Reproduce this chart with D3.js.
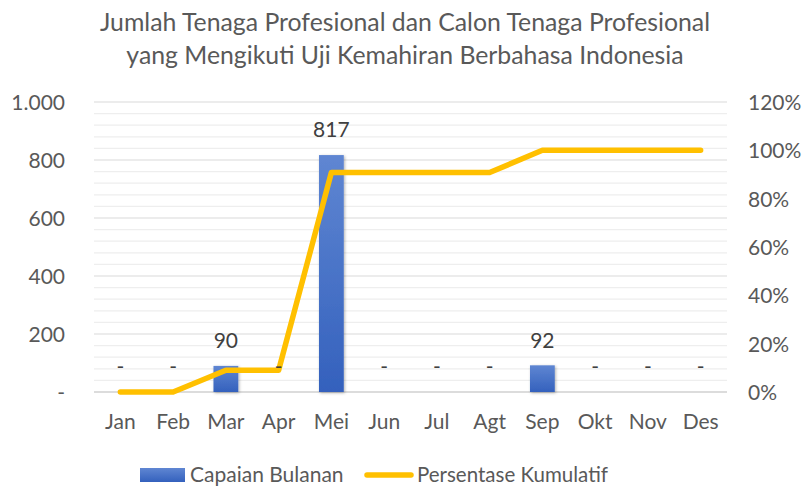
<!DOCTYPE html>
<html><head><meta charset="utf-8">
<script src="https://cdn.jsdelivr.net/npm/d3@7"></script>
<style>body{margin:0;background:#fff}svg{display:block}</style>
</head><body>
<svg id="c" width="809" height="486"></svg>
<script>
const months = ["Jan","Feb","Mar","Apr","Mei","Jun","Jul","Agt","Sep","Okt","Nov","Des"];
const capaian = [0,0,90,0,817,0,0,0,92,0,0,0];
const kumulatif = [0,0,0.09,0.09,0.908,0.908,0.908,0.908,1.0,1.0,1.0,1.0];
const leftTicks = [0,200,400,600,800,1000];
const rightTicks = [0,0.2,0.4,0.6,0.8,1.0,1.2];
const titleLines = ["Jumlah Tenaga Profesional dan Calon Tenaga Profesional","yang Mengikuti Uji Kemahiran Berbahasa Indonesia"];
const legendLabels = ["Capaian Bulanan","Persentase Kumulatif"];

const svg = d3.select("#c");
const font = "Lato, sans-serif";
const grey = "#595959";
const L = 94, R = 727, T = 102, B = 392;

const x = d3.scaleBand().domain(months).range([L, R]).paddingInner(0.53).paddingOuter(0.265);
const y = d3.scaleLinear().domain([0,1000]).range([B,T]);
const y2 = d3.scaleLinear().domain([0,1.2]).range([B,T]);

const defs = svg.append("defs");
const g = defs.append("linearGradient").attr("id","bg").attr("x1",0).attr("y1",0).attr("x2",0).attr("y2",1);
g.append("stop").attr("offset","0%").attr("stop-color","#5f86d2");
g.append("stop").attr("offset","100%").attr("stop-color","#3461bd");
const f = defs.append("filter").attr("id","sh").attr("x","-30%").attr("y","-10%").attr("width","160%").attr("height","130%");
f.append("feDropShadow").attr("dx",1).attr("dy",1).attr("stdDeviation",1.5).attr("flood-color","#000").attr("flood-opacity",0.3);

// minor gridlines
const minor = d3.range(0,1001,40).filter(v => v % 200 !== 0);
svg.append("g").selectAll("line").data(minor).join("line")
  .attr("x1",L).attr("x2",R).attr("y1",d=>y(d)).attr("y2",d=>y(d))
  .attr("stroke","#eeeeee").attr("stroke-width",1.2);
svg.append("g").selectAll("line").data(leftTicks).join("line")
  .attr("x1",L).attr("x2",R).attr("y1",d=>y(d)).attr("y2",d=>y(d))
  .attr("stroke",d=>d===0?"#d0d0d0":"#d9d9d9").attr("stroke-width",d=>d===0?1.5:1.2);

const axisText = sel => sel.attr("font-family",font).attr("font-size",21).attr("fill",grey).attr("dy","0.35em");

// left axis
const la = d3.axisLeft(y).tickValues(leftTicks).tickSize(0).tickPadding(0)
  .tickFormat(d => d===0 ? "-" : d3.format(",")(d).replace(/,/g,"."));
const lg = svg.append("g").attr("transform",`translate(65,0)`).call(la);
lg.select(".domain").remove();
lg.selectAll("text").call(axisText);

// right axis
const ra = d3.axisRight(y2).tickValues(rightTicks).tickSize(0).tickPadding(0)
  .tickFormat(d => Math.round(d*100)+"%");
const rg = svg.append("g").attr("transform",`translate(748,0)`).call(ra);
rg.select(".domain").remove();
rg.selectAll("text").call(axisText);

// x axis
const xa = d3.axisBottom(x).tickSize(0).tickPadding(0);
const xg = svg.append("g").attr("transform",`translate(0,422)`).call(xa);
xg.select(".domain").remove();
xg.selectAll("text").call(axisText);

// bars
svg.append("g").selectAll("rect").data(months.map((m,i)=>({m,v:capaian[i]})).filter(d=>d.v>0)).join("rect")
  .attr("x",d=>x(d.m)).attr("width",x.bandwidth())
  .attr("y",d=>y(d.v)).attr("height",d=>B-y(d.v))
  .attr("fill","url(#bg)").attr("filter","url(#sh)");

// line
svg.append("path").datum(kumulatif)
  .attr("d", d3.line().x((d,i)=>x(months[i])+x.bandwidth()/2).y(d=>y2(d)))
  .attr("fill","none").attr("stroke","#ffc000").attr("stroke-width",5.5)
  .attr("stroke-linecap","round").attr("stroke-linejoin","round");

// data labels
svg.append("g").selectAll("text").data(months.map((m,i)=>({m,v:capaian[i]}))).join("text")
  .attr("x",d=>x(d.m)+x.bandwidth()/2)
  .attr("y",d=>y(d.v)-25)
  .attr("dy","0.35em")
  .attr("text-anchor","middle").attr("font-family",font).attr("font-size",21)
  .attr("fill","#404040")
  .text(d=>d.v===0?"-":d.v);

// title
svg.append("g").selectAll("text").data(titleLines).join("text")
  .attr("x",405).attr("y",(d,i)=>22+i*33).attr("dy","0.35em")
  .attr("text-anchor","middle").attr("font-family",font).attr("font-size",24.8)
  .attr("fill",grey).text(d=>d);

// legend
const leg = svg.append("g");
leg.append("rect").attr("x",140).attr("y",468).attr("width",45).attr("height",14).attr("fill","url(#bg)");
leg.append("text").attr("x",190).attr("y",475).attr("dy","0.35em").attr("font-family",font).attr("font-size",21).attr("fill",grey).text(legendLabels[0]);
leg.append("line").attr("x1",367).attr("x2",411).attr("y1",475).attr("y2",475).attr("stroke","#ffc000").attr("stroke-width",5.5).attr("stroke-linecap","round");
leg.append("text").attr("x",417).attr("y",475).attr("dy","0.35em").attr("font-family",font).attr("font-size",20.5).attr("fill",grey).text(legendLabels[1]);
</script>
</body></html>
